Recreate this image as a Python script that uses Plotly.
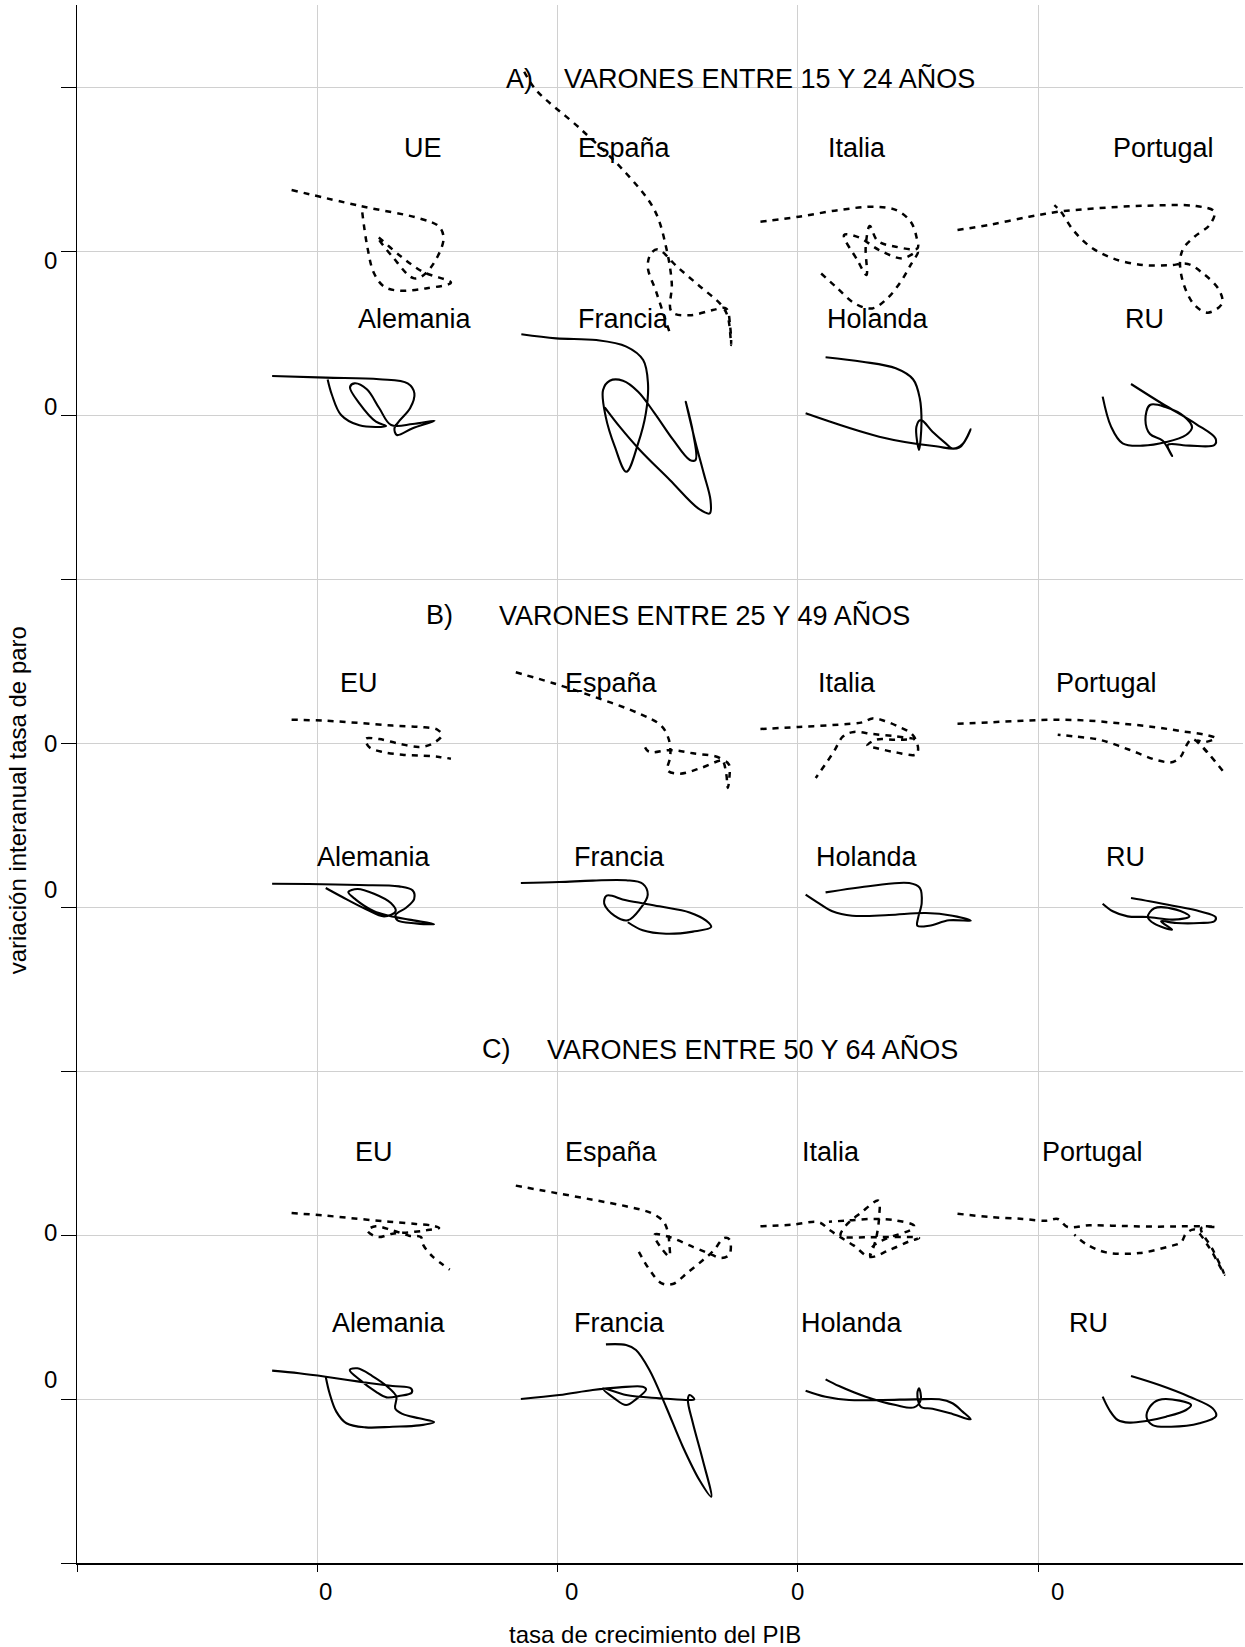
import plotly.graph_objects as go

# ---------------- DATA (PIB growth, change in unemployment rate) ----------------
# Panel A) varones 15-24
a_ue_pib = [-1.07, 1.74, 4.24, 5.07, 5.25, 4.58, 4.03, 3.13, 2.50, 3.40, 4.38, 5.56, 4.51, 3.40, 2.78, 2.36, 2.08, 1.85]
a_ue_paro = [3.72, 2.76, 1.99, 1.48, 0.67, -1.26, -1.67, -0.35, 0.87, -0.24, -1.26, -1.93, -2.28, -2.42, -2.17, -1.36, 0.26, 2.60]
a_es_pib = [-1.39, -0.90, 0.97, 2.85, 4.03, 4.54, 4.75, 4.74, 5.49, 6.46, 7.01, 7.18, 7.22, 7.08, 6.81, 5.90, 5.00, 4.17, 3.89, 3.75, 4.10, 4.44, 4.65]
a_es_paro = [10.93, 9.82, 7.42, 4.74, 2.50, 0.06, -1.97, -3.70, -3.92, -3.60, -3.50, -4.61, -5.73, -4.00, -3.29, -2.13, -1.00, 0.10, -0.14, -0.96, -2.48, -4.00, -4.92]
a_it_pib = [-1.56, 0.04, 1.71, 3.24, 4.14, 4.69, 4.93, 4.97, 4.07, 3.31, 2.99, 2.82, 2.85, 2.47, 1.92, 2.54, 3.38, 4.35, 4.99, 4.69, 4.28, 3.72, 3.10, 2.40, 1.57, 0.88]
a_it_paro = [1.79, 2.09, 2.50, 2.70, 2.46, 1.79, 0.87, 0.16, 0.26, 0.63, 1.52, 0.26, -1.46, -0.55, 0.98, 0.83, 0.06, -0.45, -0.04, -0.85, -1.87, -2.89, -3.50, -3.23, -2.17, -1.26]
a_pt_pib = [-3.36, -2.04, -0.38, 0.88, 2.40, 4.49, 6.57, 7.33, 7.13, 6.50, 6.04, 5.90, 6.04, 6.50, 7.06, 7.65, 7.51, 6.85, 6.22, 5.46, 4.35, 3.10, 2.13, 1.43, 0.94, 0.67]
a_pt_paro = [1.28, 1.59, 2.09, 2.40, 2.60, 2.76, 2.74, 2.40, 1.59, 0.87, 0.16, -0.65, -1.97, -3.29, -3.76, -3.19, -2.34, -1.36, -0.79, -0.87, -0.85, -0.45, 0.30, 1.32, 2.40, 2.80]
a_de_pib = [-1.88, 0.36, 2.58, 3.76, 4.04, 3.86, 3.42, 3.21, 3.31, 3.97, 4.88, 3.97, 3.07, 2.58, 2.06, 1.54, 1.36, 1.75, 2.44, 2.86, 1.75, 0.99, 0.61, 0.43]
a_de_paro = [2.38, 2.28, 2.18, 1.93, 1.32, 0.41, -0.35, -0.81, -1.22, -0.81, -0.35, -0.55, -0.61, 0.41, 1.57, 1.93, 1.69, 0.71, -0.41, -0.67, -0.63, 0.00, 1.22, 2.17]
a_fr_pib = [-1.51, -0.06, 1.61, 2.86, 3.56, 3.76, 3.67, 3.35, 2.86, 2.38, 2.00, 1.89, 2.17, 2.72, 3.35, 4.04, 4.81, 5.50, 5.74, 5.64, 5.33, 5.71, 6.08, 6.36, 6.33, 5.85, 4.67, 3.42, 2.58, 1.96]
a_fr_paro = [4.92, 4.67, 4.57, 4.17, 3.35, 1.93, 0.10, -1.73, -3.46, -1.93, -0.10, 1.52, 2.09, 2.09, 1.42, 0.10, -1.52, -2.74, -2.74, -1.12, 0.81, -1.52, -3.56, -5.18, -6.00, -5.69, -3.96, -2.13, -0.71, 0.47]
a_nl_pib = [1.15, 2.68, 4.07, 4.79, 5.07, 5.14, 5.04, 4.93, 5.11, 5.60, 6.15, 6.43, 6.85, 7.19, 6.71, 5.74, 3.38, 0.32]
a_nl_paro = [3.52, 3.25, 2.85, 2.18, 1.02, -0.51, -2.13, -0.71, -0.30, -1.02, -1.73, -2.05, -1.77, -0.87, -1.99, -1.91, -1.32, 0.10]
a_uk_pib = [2.68, 3.03, 3.51, 4.35, 5.32, 6.15, 6.40, 6.08, 5.32, 4.65, 4.46, 4.65, 5.18, 5.57, 5.39, 6.29, 7.33, 7.38, 6.57, 5.18, 3.86]
a_uk_paro = [1.12, -0.71, -1.73, -1.87, -1.65, -1.22, -0.75, -0.10, 0.47, 0.61, -0.30, -1.16, -1.57, -2.50, -1.83, -1.87, -1.83, -1.44, -0.55, 0.67, 1.89]

# Panel B) varones 25-49
b_eu_pib = [-1.07, 0.35, 1.74, 3.13, 4.24, 5.00, 5.18, 4.79, 4.24, 3.40, 2.57, 2.01, 2.15, 2.71, 3.54, 4.38, 5.07, 5.56]
b_eu_paro = [1.42, 1.36, 1.22, 1.06, 0.98, 0.81, 0.47, -0.04, -0.24, -0.04, 0.24, 0.26, -0.24, -0.55, -0.71, -0.77, -0.85, -0.96]
b_es_pib = [-1.74, -0.21, 1.46, 3.40, 4.31, 4.63, 4.69, 4.58, 5.10, 5.97, 6.88, 7.13, 7.15, 7.08, 7.01, 6.81, 5.63, 4.68, 3.79, 3.54]
b_es_paro = [4.31, 3.66, 2.85, 1.79, 1.06, 0.20, -0.81, -1.67, -1.87, -1.52, -1.06, -1.32, -2.07, -2.74, -1.83, -0.98, -0.63, -0.43, -0.53, 0.08]
b_it_pib = [-1.56, 0.04, 1.71, 2.68, 3.10, 3.58, 4.21, 4.69, 4.90, 5.00, 4.90, 4.07, 3.24, 2.89, 3.24, 4.07, 4.83, 4.07, 3.10, 2.33, 1.88, 1.50, 1.13, 0.74]
b_it_paro = [0.85, 0.98, 1.12, 1.26, 1.50, 1.36, 0.98, 0.61, 0.20, -0.41, -0.71, -0.57, -0.30, -0.16, 0.20, 0.20, 0.24, 0.41, 0.55, 0.67, 0.41, -0.51, -1.32, -2.13]
b_pt_pib = [-3.36, -2.04, -0.65, 0.74, 2.13, 3.51, 4.90, 6.01, 6.99, 7.38, 6.85, 6.64, 7.13, 7.75, 6.99, 6.40, 6.13, 5.94, 5.60, 4.97, 3.79, 2.54, 1.43, 0.81]
b_pt_paro = [1.18, 1.26, 1.36, 1.42, 1.36, 1.18, 0.96, 0.71, 0.49, 0.30, 0.04, 0.16, -0.71, -1.83, -0.51, 0.24, -0.24, -0.81, -1.16, -1.06, -0.41, 0.20, 0.41, 0.51]
b_de_pib = [-1.88, -0.35, 1.74, 3.40, 3.96, 4.03, 3.68, 3.26, 3.33, 4.10, 4.86, 3.82, 2.99, 2.36, 1.60, 1.29, 1.67, 2.36, 3.06, 3.26, 2.78, 2.01, 1.04, 0.35]
b_de_paro = [1.42, 1.40, 1.34, 1.26, 1.02, 0.49, -0.06, -0.47, -0.81, -1.00, -1.04, -0.77, -0.53, -0.26, 0.45, 0.91, 1.10, 0.81, 0.24, -0.26, -0.57, -0.12, 0.61, 1.16]
b_fr_pib = [-1.53, 0.07, 1.46, 2.85, 3.54, 3.75, 3.43, 2.92, 2.36, 1.94, 2.04, 2.85, 4.24, 5.49, 6.18, 6.39, 5.63, 4.51, 3.54, 2.92]
b_fr_paro = [1.46, 1.52, 1.61, 1.63, 1.42, 0.75, -0.12, -0.81, -0.53, 0.20, 0.69, 0.41, 0.04, -0.33, -0.83, -1.22, -1.50, -1.63, -1.42, -0.93]
b_nl_pib = [1.15, 3.10, 4.63, 5.07, 5.15, 5.00, 4.97, 5.46, 6.29, 7.19, 6.43, 5.32, 3.79, 2.26, 1.43, 0.81, 0.32]
b_nl_paro = [0.89, 1.30, 1.46, 1.16, 0.24, -0.67, -1.14, -1.14, -0.81, -0.83, -0.53, -0.37, -0.49, -0.53, -0.26, 0.28, 0.75]
b_uk_pib = [2.68, 3.10, 3.72, 4.56, 5.60, 6.29, 5.74, 4.83, 4.56, 4.83, 5.57, 5.11, 5.74, 6.71, 7.33, 7.38, 6.71, 5.60, 4.63, 3.86]
b_uk_paro = [0.20, -0.26, -0.57, -0.61, -0.77, -0.57, -0.16, -0.08, -0.61, -1.02, -1.38, -0.87, -0.98, -0.98, -0.87, -0.61, -0.26, 0.08, 0.35, 0.55]

# Panel C) varones 50-64
c_eu_pib = [-1.07, 0.35, 1.74, 2.99, 4.10, 4.79, 5.07, 4.51, 3.82, 3.13, 2.50, 2.08, 2.43, 3.13, 3.82, 4.31, 4.40, 4.79, 5.51]
c_eu_paro = [1.34, 1.18, 0.98, 0.81, 0.67, 0.57, 0.43, 0.28, 0.16, 0.08, -0.12, 0.28, 0.53, 0.28, -0.04, -0.12, -0.59, -1.30, -2.11]
c_es_pib = [-1.74, -0.21, 1.46, 2.85, 3.89, 4.40, 4.58, 4.65, 4.65, 4.31, 4.03, 4.65, 5.63, 6.32, 6.81, 7.15, 7.15, 6.94, 6.46, 6.04, 5.42, 4.79, 4.31, 3.82, 3.33]
c_es_paro = [3.01, 2.60, 2.15, 1.75, 1.34, 0.83, 0.22, -0.59, -1.30, -0.79, 0.02, -0.12, -0.73, -1.14, -1.40, -1.20, -0.28, -0.18, -1.00, -1.54, -2.28, -2.99, -2.93, -2.11, -0.89]
c_it_pib = [-1.56, -0.24, 0.88, 1.29, 1.71, 2.33, 2.99, 3.79, 4.63, 5.04, 3.93, 2.82, 1.78, 1.99, 2.61, 3.35, 3.38, 3.24, 3.00, 3.10, 3.65, 4.76, 4.83, 4.07, 3.10, 2.13, 1.29]
c_it_paro = [0.53, 0.63, 0.77, 0.33, -0.08, -0.65, -1.34, -0.93, -0.39, -0.18, -0.12, -0.14, -0.04, 0.57, 1.34, 2.09, 1.14, -0.28, -1.30, -0.73, -0.24, 0.37, 0.57, 0.89, 0.98, 0.89, 0.81]
c_pt_pib = [-3.36, -2.04, -0.65, 0.32, 0.81, 1.22, 2.13, 3.51, 4.90, 6.01, 6.99, 7.40, 6.78, 7.26, 7.75, 7.10, 6.50, 6.15, 5.94, 5.46, 4.21, 2.82, 1.99, 1.50]
c_pt_paro = [1.30, 1.10, 0.98, 0.87, 0.98, 0.49, 0.59, 0.55, 0.51, 0.53, 0.53, 0.49, 0.41, -0.89, -2.42, -0.73, 0.33, 0.08, -0.45, -0.69, -1.10, -1.06, -0.55, 0.02]
c_de_pib = [-1.88, -0.76, 0.35, 1.74, 3.13, 3.89, 3.93, 3.40, 2.88, 2.43, 1.81, 1.35, 1.67, 2.29, 2.92, 3.29, 3.24, 3.54, 4.24, 4.86, 4.24, 3.13, 2.01, 1.21, 0.79, 0.51, 0.35]
c_de_paro = [1.73, 1.57, 1.36, 1.06, 0.79, 0.65, 0.39, 0.18, 0.10, 0.45, 1.12, 1.77, 1.87, 1.40, 0.75, 0.14, -0.57, -0.91, -1.18, -1.40, -1.61, -1.69, -1.73, -1.48, -0.77, 0.35, 1.36]
c_fr_pib = [-1.53, 0.07, 1.46, 2.57, 3.54, 3.68, 3.26, 2.85, 2.36, 1.88, 2.85, 4.24, 5.35, 5.69, 5.49, 5.42, 5.63, 6.04, 6.39, 5.90, 5.21, 4.51, 3.82, 3.26, 2.85, 2.01]
c_fr_paro = [0.00, 0.24, 0.55, 0.71, 0.75, 0.59, -0.02, -0.37, 0.04, 0.65, 0.24, 0.04, -0.06, -0.02, 0.24, -0.06, -1.48, -3.72, -5.96, -4.94, -2.91, -0.47, 1.77, 2.99, 3.29, 3.33]
c_nl_pib = [0.32, 1.15, 2.13, 3.51, 4.90, 5.88, 6.43, 6.85, 7.19, 6.43, 5.60, 5.11, 4.97, 5.04, 5.11, 4.83, 4.07, 2.82, 1.71, 1.15]
c_nl_paro = [0.51, 0.14, -0.06, -0.06, -0.02, -0.02, -0.26, -0.77, -1.24, -0.91, -0.59, -0.47, 0.35, 0.65, -0.06, -0.51, -0.37, 0.14, 0.79, 1.20]
c_uk_pib = [2.68, 2.96, 3.31, 3.79, 4.49, 5.32, 6.15, 6.36, 5.88, 5.01, 4.65, 4.51, 4.76, 5.53, 6.71, 7.40, 7.26, 6.29, 5.04, 3.86]
c_uk_paro = [0.14, -0.67, -1.28, -1.44, -1.34, -1.08, -0.67, -0.37, -0.10, -0.06, -0.47, -1.12, -1.59, -1.69, -1.48, -1.04, -0.57, 0.14, 0.85, 1.40]

panel_letters = ["A)", "B)", "C)"]
panel_titles = ["VARONES ENTRE 15 Y 24 AÑOS", "VARONES ENTRE 25 Y 49 AÑOS", "VARONES ENTRE 50 Y 64 AÑOS"]
top_names = [["UE", "España", "Italia", "Portugal"],
             ["EU", "España", "Italia", "Portugal"],
             ["EU", "España", "Italia", "Portugal"]]
bottom_names = ["Alemania", "Francia", "Holanda", "RU"]

top_series = [
    [(a_ue_pib, a_ue_paro), (a_es_pib, a_es_paro), (a_it_pib, a_it_paro), (a_pt_pib, a_pt_paro)],
    [(b_eu_pib, b_eu_paro), (b_es_pib, b_es_paro), (b_it_pib, b_it_paro), (b_pt_pib, b_pt_paro)],
    [(c_eu_pib, c_eu_paro), (c_es_pib, c_es_paro), (c_it_pib, c_it_paro), (c_pt_pib, c_pt_paro)],
]
bottom_series = [
    [(a_de_pib, a_de_paro), (a_fr_pib, a_fr_paro), (a_nl_pib, a_nl_paro), (a_uk_pib, a_uk_paro)],
    [(b_de_pib, b_de_paro), (b_fr_pib, b_fr_paro), (b_nl_pib, b_nl_paro), (b_uk_pib, b_uk_paro)],
    [(c_de_pib, c_de_paro), (c_fr_pib, c_fr_paro), (c_nl_pib, c_nl_paro), (c_uk_pib, c_uk_paro)],
]

# ---------------- LAYOUT (small-multiple offsets, label positions) ----------------
col_offsets = [0, 10, 20, 30]
row_offsets = [(80, 70), (50, 40), (20, 10)]

top_label_x = [[4.40, 12.80, 22.46, 35.23], [1.74, 12.26, 22.04, 32.86], [2.36, 12.26, 21.38, 32.24]]
top_label_y = [86.28, 53.66, 25.06]
bottom_label_x = [[4.07, 12.76, 23.33, 34.44], [2.36, 12.56, 22.88, 33.65], [2.98, 12.56, 22.25, 32.07]]
bottom_label_y = [75.85, 43.05, 14.63]
letter_x = [7.77, 4.44, 6.77]
title_x = [10.18, 7.48, 9.48]
title_y = [90.49, 57.80, 31.34]

FONT = "Arial, Liberation Sans, sans-serif"
DASH = "6px,6px"

fig = go.Figure()
annotations = []

def add_line(xs, ys, dx, dy, dashed):
    fig.add_trace(go.Scatter(
        x=[v + dx for v in xs], y=[v + dy for v in ys], mode="lines",
        line=dict(color="black", width=2.5 if dashed else 2.1,
                  dash=DASH if dashed else "solid", shape="spline", smoothing=1.0),
        hoverinfo="skip", showlegend=False, cliponaxis=False))

def label(text, x, y, size=27, ref="", xanchor="center", **kw):
    annotations.append(dict(text=text, x=x, y=y,
                            xref="paper" if ref == "paper" else "x",
                            yref="paper" if ref == "paper" else "y",
                            xanchor=xanchor, yanchor="middle",
                            showarrow=False,
                            font=dict(family=FONT, size=size, color="black"), **kw))

for p in range(3):
    top_row, bottom_row = row_offsets[p]
    for c in range(4):
        xs, ys = top_series[p][c]
        add_line(xs, ys, col_offsets[c], top_row, True)
        xs, ys = bottom_series[p][c]
        add_line(xs, ys, col_offsets[c], bottom_row, False)
        label(top_names[p][c], top_label_x[p][c], top_label_y[p])
        label(bottom_names[c], bottom_label_x[p][c], bottom_label_y[p])
    label(panel_letters[p], letter_x[p], title_y[p], xanchor="left")
    label(panel_titles[p], title_x[p], title_y[p], xanchor="left")

# tick labels ("0") as drawn in the original (slightly offset from the grid), paper coords
ytick_label_y = [0.8363, 0.7420, 0.5263, 0.4320, 0.2124, 0.1181]
for yv in ytick_label_y:
    label("0", -0.0223, yv, size=24, ref="paper")
xtick_label_x = [0.2127, 0.4237, 0.6183, 0.8405]
for xv in xtick_label_x:
    label("0", xv, -0.0186, size=24, ref="paper")

# axis titles
label("variación interanual tasa de paro", -0.0515, 0.4895, size=24, ref="paper", textangle=-90)
label("tasa de crecimiento del PIB", 0.4957, -0.0462, size=24, ref="paper")

fig.update_layout(
    width=1245, height=1647,
    margin=dict(l=77, r=2, t=5, b=84),
    paper_bgcolor="white", plot_bgcolor="white",
    annotations=annotations,
    xaxis=dict(range=[-10, 38.52], tickvals=[-10, 0, 10, 20, 30], showticklabels=False,
               ticks="outside", ticklen=7, tickcolor="black", tickwidth=1,
               showgrid=True, gridcolor="#d0d0d0", gridwidth=1, zeroline=False,
               showline=True, linecolor="black", linewidth=1.6, fixedrange=True),
    yaxis=dict(range=[0, 95], tickvals=list(range(0, 100, 10)), showticklabels=False,
               ticks="outside", ticklen=15, tickcolor="black", tickwidth=1,
               showgrid=True, gridcolor="#d0d0d0", gridwidth=1, zeroline=False,
               showline=True, linecolor="black", linewidth=1, fixedrange=True),
)

fig.write_html("out.html", config={"displayModeBar": False},
               post_script="document.body.style.margin='0';document.body.style.overflow='hidden';")
